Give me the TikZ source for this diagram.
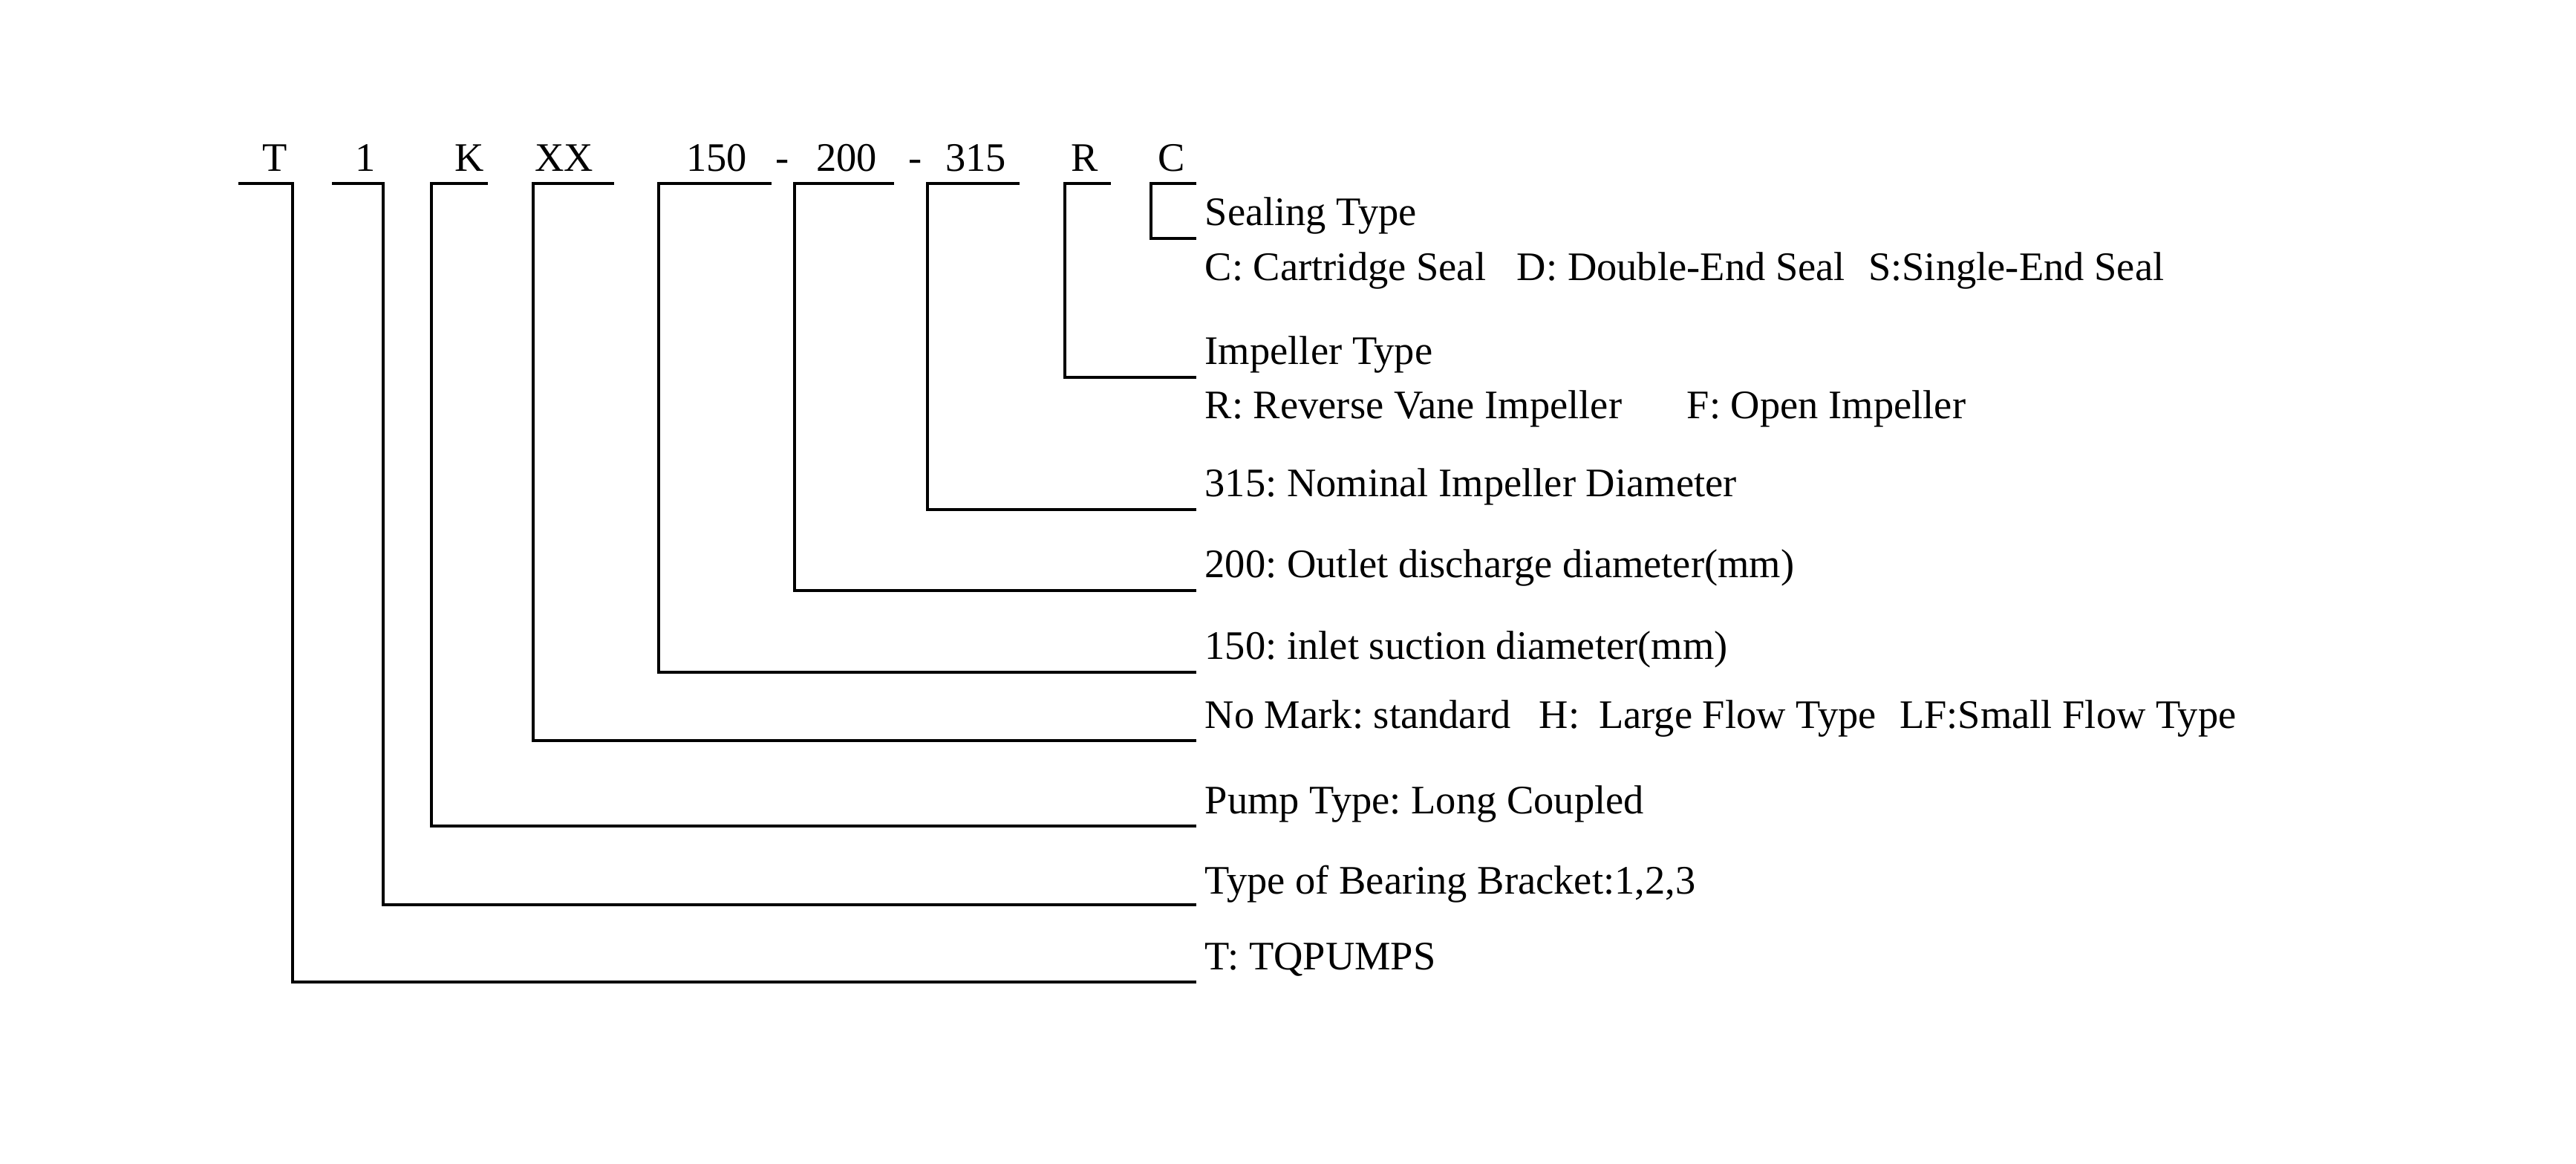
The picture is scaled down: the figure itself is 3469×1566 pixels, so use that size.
\documentclass[tikz,border=0pt]{standalone}
\usepackage{fontspec}
\setmainfont{Liberation Serif}
\frenchspacing
\begin{document}
\begin{tikzpicture}[x=0.01cm,y=-0.01cm,line join=miter,
  pipe/.style={black,line width=1.15pt},
  code/.style={anchor=base,inner sep=0pt,font=\fontsize{15.5}{18}\selectfont},
  desc/.style={anchor=base west,inner sep=0pt,font=\fontsize{15.5}{18}\selectfont}]
\useasboundingbox (0,0) rectangle (3469,1566);
%%
\node (code_0) at (370,230) [code] {T};
\node (code_1) at (492,230) [code] {1};
\node (code_2) at (632,230) [code] {K};
\node (code_3) at (760,230) [code] {XX};
\node (code_4) at (965,230) [code] {150};
\node (dash_0) at (1054,230) [code] {-};
\node (code_5) at (1140,230) [code] {200};
\node (dash_1) at (1233,230) [code] {-};
\node (code_6) at (1314,230) [code] {315};
\node (code_7) at (1461,230) [code] {R};
\node (code_8) at (1578,230) [code] {C};
%
\node (desc_8a) at (1622,303) [desc] {Sealing Type};
\node (desc_8b) at (1622,377) [desc] {C: Cartridge Seal\hspace{8pt} D: Double-End Seal\hspace{5pt} S:Single-End Seal};
\node (desc_7a) at (1622,490) [desc] {Impeller Type};
\node (desc_7b) at (1622,563) [desc] {R: Reverse Vane Impeller\hspace{21pt} F: Open Impeller};
\node (desc_6) at (1622,668) [desc] {315: Nominal Impeller Diameter};
\node (desc_5) at (1622,777) [desc] {200: Outlet discharge diameter(mm)};
\node (desc_4) at (1622,887) [desc] {150: inlet suction diameter(mm)};
\node (desc_3) at (1622,980) [desc] {No Mark: standard\hspace{7pt} H:\hspace{3.5pt} Large Flow Type\hspace{5pt} LF:Small Flow Type};
\node (desc_2) at (1622,1095) [desc] {Pump Type: Long Coupled};
\node (desc_1) at (1622,1203) [desc] {Type of Bearing Bracket:1,2,3};
\node (desc_0) at (1622,1305) [desc] {T: TQPUMPS};
%
\coordinate (bar_0) at (321,247);
\coordinate (bar_1) at (447,247);
\coordinate (bar_2) at (657,247);
\coordinate (bar_3) at (827,247);
\coordinate (bar_4) at (1039,247);
\coordinate (bar_5) at (1204,247);
\coordinate (bar_6) at (1373,247);
\coordinate (bar_7) at (1496,247);
\coordinate (bar_8) at (1611,247);
\coordinate (end_0) at (1611,1322);
\coordinate (end_1) at (1611,1218);
\coordinate (end_2) at (1611,1112);
\coordinate (end_3) at (1611,997);
\coordinate (end_4) at (1611,905);
\coordinate (end_5) at (1611,795);
\coordinate (end_6) at (1611,686);
\coordinate (end_7) at (1611,508);
\coordinate (end_8) at (1611,321);
%
\draw [pipe] (bar_0) -- ++(73,0) |- (end_0);
\draw [pipe] (bar_1) -- ++(69,0) |- (end_1);
\draw [pipe] (bar_2) -- ++(-76,0) |- (end_2);
\draw [pipe] (bar_3) -- ++(-109,0) |- (end_3);
\draw [pipe] (bar_4) -- ++(-152,0) |- (end_4);
\draw [pipe] (bar_5) -- ++(-134,0) |- (end_5);
\draw [pipe] (bar_6) -- ++(-124,0) |- (end_6);
\draw [pipe] (bar_7) -- ++(-62,0) |- (end_7);
\draw [pipe] (bar_8) -- ++(-61,0) |- (end_8);
%
\end{tikzpicture}
\end{document}
